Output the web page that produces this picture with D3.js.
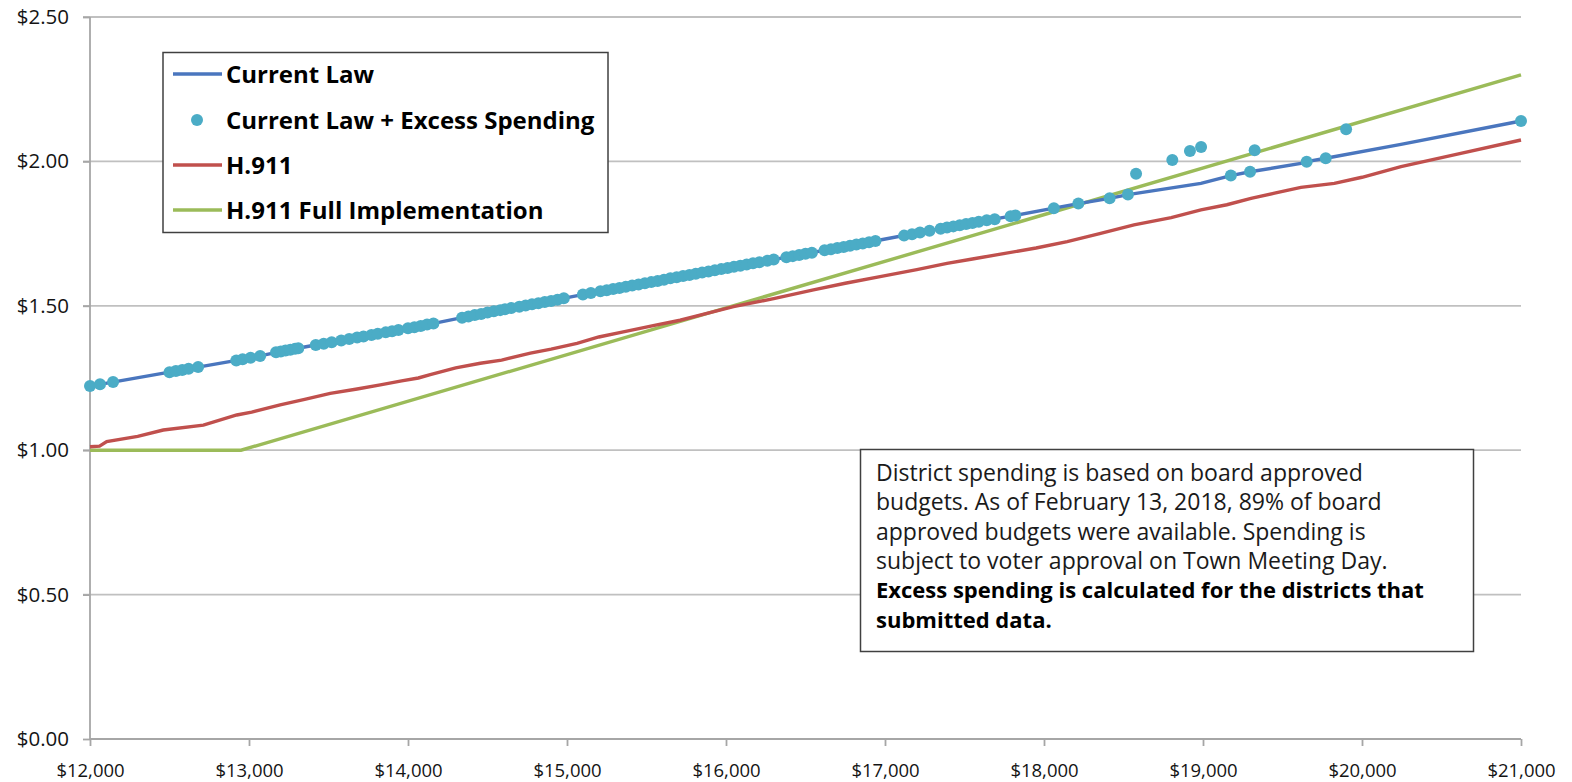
<!DOCTYPE html>
<html><head><meta charset="utf-8">
<script src="https://cdn.jsdelivr.net/npm/d3@7"></script>
<style>
html,body{margin:0;padding:0;background:#fff;}
svg{display:block;}
</style></head>
<body>
<svg id="chart" width="1572" height="782"></svg>
<script>
// ---------- DATA ----------
const xTicks = [12000,13000,14000,15000,16000,17000,18000,19000,20000,21000];
const yTicks = [0,0.5,1.0,1.5,2.0,2.5];
const seriesNames = ["Current Law","Current Law + Excess Spending","H.911","H.911 Full Implementation"];

// Current Law (spending per pupil, tax rate)
const currentLawX = [12000,12598,12994,13246,13497,13774,14063,14455,14591,15082,15711,16340,16969,17472,17811,18062,18216,18413,18528,18987,19175,19296,19616,19652,19772,20245,21000];
const currentLawY = [1.222,1.280,1.318,1.347,1.372,1.399,1.428,1.472,1.485,1.537,1.601,1.664,1.728,1.780,1.812,1.838,1.854,1.872,1.885,1.924,1.951,1.964,1.993,1.999,2.011,2.059,2.140];

// Current Law + Excess Spending (district points)
const excessX = [12000,12063,12145,12500,12540,12580,12620,12680,12920,12960,13010,13070,
 13170,13200,13230,13260,13290,13310,13420,13470,13520,13580,13630,13680,13720,13770,13810,13860,13900,13940,
 14000,14040,14080,14120,14160,14340,14380,14420,14460,14500,14540,14580,14610,
 14650,14700,14740,14780,14820,14860,14900,14940,14980,15100,15150,
 15210,15250,15290,15330,15370,15410,15450,15490,15530,15570,15610,15650,15690,15730,15770,15810,15850,15890,15930,15970,
 16010,16050,16090,16130,16170,16210,16260,16300,16380,16420,16460,16500,16540,
 16620,16660,16700,16740,16780,16820,16860,16900,16940,17120,17170,17220,17280,
 17350,17390,17430,17470,17510,17550,17590,17640,17690,17790,17820,
 18062,18216,18413,18528,18579,18807,18918,18988,19175,19296,19325,19652,19772,19900,21000];
const excessY = [1.222,1.228,1.236,1.270,1.274,1.278,1.282,1.288,1.311,1.315,1.320,1.326,
 1.339,1.342,1.345,1.348,1.351,1.353,1.364,1.369,1.374,1.380,1.385,1.390,1.394,1.399,1.403,1.408,1.412,1.416,
 1.422,1.426,1.430,1.435,1.439,1.459,1.463,1.468,1.472,1.477,1.481,1.485,1.488,
 1.492,1.497,1.501,1.505,1.509,1.513,1.517,1.521,1.526,1.539,1.544,
 1.550,1.554,1.558,1.562,1.566,1.570,1.574,1.578,1.582,1.586,1.590,1.595,1.599,1.603,1.607,1.611,1.615,1.619,1.623,1.627,
 1.631,1.635,1.639,1.643,1.647,1.651,1.656,1.660,1.668,1.672,1.676,1.680,1.684,
 1.692,1.696,1.700,1.704,1.708,1.712,1.716,1.720,1.724,1.743,1.748,1.754,1.760,
 1.767,1.771,1.775,1.779,1.783,1.787,1.791,1.796,1.800,1.810,1.813,
 1.838,1.854,1.872,1.885,1.957,2.005,2.036,2.050,1.951,1.964,2.039,1.999,2.011,2.111,2.140];

// H.911
const h911X = [12000,12060,12105,12300,12461,12713,12923,13017,13196,13350,13511,13680,13826,13960,14065,14140,14300,14455,14589,14770,14900,15063,15200,15354,15550,15711,15880,16047,16300,16550,16750,16969,17200,17390,17550,17727,17950,18146,18350,18566,18800,18987,19150,19302,19450,19616,19826,20000,20245,20600,21000];
const h911Y = [1.012,1.014,1.030,1.048,1.070,1.087,1.122,1.132,1.157,1.176,1.197,1.212,1.226,1.240,1.250,1.262,1.285,1.301,1.312,1.336,1.350,1.370,1.392,1.410,1.432,1.450,1.474,1.497,1.525,1.555,1.578,1.601,1.625,1.647,1.662,1.679,1.700,1.722,1.750,1.780,1.805,1.832,1.850,1.872,1.890,1.910,1.924,1.945,1.982,2.025,2.074];

// H.911 Full Implementation
const fullX = [12000,12950,21000];
const fullY = [1.0,1.0,2.30];

const noteLines = [
 {t:"District spending is based on board approved", b:false},
 {t:"budgets. As of February 13, 2018, 89% of board", b:false},
 {t:"approved budgets were available. Spending is", b:false},
 {t:"subject to voter approval on Town Meeting Day.", b:false},
 {t:"Excess spending is calculated for the districts that", b:true},
 {t:"submitted data.", b:true}
];

// ---------- STYLE ----------
const colors = {blue:"#4a76be", cyan:"#4bacc6", red:"#c0504d", green:"#9bbb59", grid:"#c0c0c0"};
const font = "'Open Sans', Lato, sans-serif";

const svg = d3.select("#chart");
const x = d3.scaleLinear().domain([12000,21000]).range([90,1521]);
const y = d3.scaleLinear().domain([0,2.5]).range([739,17]);

// gridlines
svg.append("g").selectAll("line").data(yTicks.filter(d=>d>0)).join("line")
  .attr("x1",83).attr("x2",1521).attr("y1",d=>y(d)).attr("y2",d=>y(d))
  .attr("stroke",colors.grid).attr("stroke-width",1.8);

// axes
const yAxis = d3.axisLeft(y).tickValues(yTicks).tickSize(7).tickPadding(14)
  .tickFormat(d=>"$"+d3.format(".2f")(d));
const gy = svg.append("g").attr("transform","translate(90,0)").call(yAxis);
const xAxis = d3.axisBottom(x).tickValues(xTicks).tickSize(7).tickPadding(18)
  .tickFormat(d=>"$"+d3.format(",")(d));
const gx = svg.append("g").attr("transform","translate(0,739)").call(xAxis);
[gx,gy].forEach(g=>{
  g.select(".domain").attr("stroke","#a6a6a6").attr("stroke-width",1.8);
  g.selectAll(".tick line").attr("stroke","#a6a6a6").attr("stroke-width",1.8);
  g.selectAll("text").attr("font-family",font).attr("fill","#141414");
});
gy.selectAll("text").attr("font-size",20.5);
gx.selectAll("text").attr("font-size",18.5);
gy.select(".domain").attr("d","M0,17V739");
gx.select(".domain").attr("d","M90,0H1521");

// lines
const line = d3.line().x(d=>x(d[0])).y(d=>y(d[1]));
const zip = (a,b)=>a.map((v,i)=>[v,b[i]]);
svg.append("path").datum(zip(fullX,fullY)).attr("d",line)
  .attr("fill","none").attr("stroke",colors.green).attr("stroke-width",3.4);
svg.append("path").datum(zip(h911X,h911Y)).attr("d",line)
  .attr("fill","none").attr("stroke",colors.red).attr("stroke-width",3.4);
svg.append("path").datum(zip(currentLawX,currentLawY)).attr("d",line)
  .attr("fill","none").attr("stroke",colors.blue).attr("stroke-width",3.4);
svg.append("g").selectAll("circle").data(zip(excessX,excessY)).join("circle")
  .attr("cx",d=>x(d[0])).attr("cy",d=>y(d[1])).attr("r",6).attr("fill",colors.cyan);

// legend
const lg = svg.append("g");
lg.append("rect").attr("x",163).attr("y",52.5).attr("width",445).attr("height",180)
  .attr("fill","#fff").attr("stroke","#404040").attr("stroke-width",1.5);
const legItems = [
  {n:seriesNames[0], type:"line", c:colors.blue},
  {n:seriesNames[1], type:"dot", c:colors.cyan},
  {n:seriesNames[2], type:"line", c:colors.red},
  {n:seriesNames[3], type:"line", c:colors.green}
];
const legY = [74,120,165,210];
legItems.forEach((it,i)=>{
  const yy = legY[i];
  if(it.type==="line"){
    lg.append("line").attr("x1",173).attr("x2",222).attr("y1",yy).attr("y2",yy)
      .attr("stroke",it.c).attr("stroke-width",3.4);
  } else {
    lg.append("circle").attr("cx",197).attr("cy",yy).attr("r",6).attr("fill",it.c);
  }
  lg.append("text").attr("x",226).attr("y",yy).attr("dy","0.36em")
    .attr("font-family",font).attr("font-weight","bold").attr("font-size",24)
    .attr("fill","#000").text(it.n);
});

// note box
const ng = svg.append("g");
ng.append("rect").attr("x",860.5).attr("y",449.5).attr("width",613).attr("height",202)
  .attr("fill","#fff").attr("stroke","#404040").attr("stroke-width",1.5);
noteLines.forEach((l,i)=>{
  ng.append("text").attr("x",876).attr("y",481+i*29.3)
    .attr("font-family",font).attr("font-size",l.b?22:23).attr("font-weight",l.b?"bold":"normal")
    .attr("fill",l.b?"#000":"#1a1a1a").text(l.t);
});
</script>
</body></html>
